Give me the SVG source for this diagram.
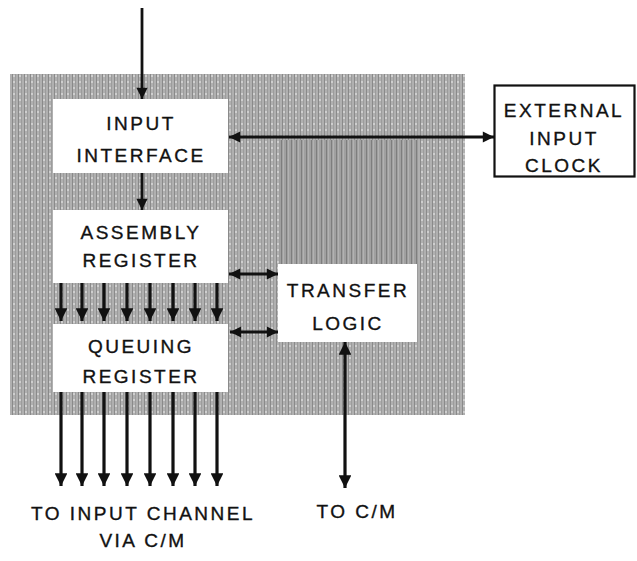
<svg xmlns="http://www.w3.org/2000/svg" width="637" height="561" viewBox="0 0 637 561">
<style>
.box{fill:#ffffff;stroke:none}
.lbl{font-family:"Liberation Sans",Arial,sans-serif;font-size:19px;letter-spacing:2.5px;fill:#111;stroke:#111;stroke-width:0.35;text-anchor:middle}
.ln{stroke:#111;fill:none}
</style>
<defs>
<pattern id="halftone" width="6" height="6" patternUnits="userSpaceOnUse">
<rect width="6" height="6" fill="#b0b0b0"/>
<rect x="0" y="0" width="1" height="6" fill="#8a8a8a"/>
<rect x="3" y="0" width="1" height="6" fill="#9c9c9c"/>
<rect x="1" y="3" width="2" height="2" fill="#cfcfcf"/>
</pattern>
<pattern id="stripes" width="5" height="5" patternUnits="userSpaceOnUse">
<rect width="5" height="5" fill="#a0a0a0"/>
<rect x="1" y="0" width="1" height="5" fill="#7e7e7e"/>
<rect x="3" y="0" width="1" height="5" fill="#b2b2b2"/>
</pattern>
<marker id="ah" viewBox="0 0 10 10" refX="10" refY="5" markerWidth="4.5" markerHeight="4" orient="auto-start-reverse" markerUnits="strokeWidth">
<path d="M0,0 L10,5 L0,10 Z" fill="#111"/>
</marker>
<marker id="ah2" viewBox="0 0 10 10" refX="10" refY="5" markerWidth="5.5" markerHeight="4" orient="auto-start-reverse" markerUnits="strokeWidth">
<path d="M0,0 L10,5 L0,10 Z" fill="#111"/>
</marker>
</defs>

<g id="background">
<rect x="10" y="74" width="455" height="341" fill="url(#halftone)"/>
<rect x="280" y="140" width="137" height="124" fill="url(#stripes)"/>
</g>

<g id="connectors">
<line class="ln" x1="142" y1="8" x2="142" y2="99" stroke-width="2.8" marker-end="url(#ah)"/>
<line class="ln" x1="142" y1="173" x2="142" y2="210" stroke-width="2.8" marker-end="url(#ah)"/>
<line class="ln" x1="229" y1="137" x2="494" y2="137" stroke-width="2.8" marker-start="url(#ah2)" marker-end="url(#ah2)"/>
<line class="ln" x1="229" y1="274" x2="278" y2="274" stroke-width="2.8" marker-start="url(#ah2)" marker-end="url(#ah2)"/>
<line class="ln" x1="230" y1="332" x2="278" y2="332" stroke-width="2.8" marker-start="url(#ah2)" marker-end="url(#ah2)"/>
<line class="ln" x1="345" y1="342" x2="345" y2="488" stroke-width="3.2" marker-start="url(#ah)" marker-end="url(#ah)"/>
<g stroke-width="3.2">
<line class="ln" x1="61" y1="283" x2="61" y2="321" marker-end="url(#ah)"/>
<line class="ln" x1="82" y1="283" x2="82" y2="321" marker-end="url(#ah)"/>
<line class="ln" x1="104" y1="283" x2="104" y2="321" marker-end="url(#ah)"/>
<line class="ln" x1="127" y1="283" x2="127" y2="321" marker-end="url(#ah)"/>
<line class="ln" x1="150" y1="283" x2="150" y2="321" marker-end="url(#ah)"/>
<line class="ln" x1="173" y1="283" x2="173" y2="321" marker-end="url(#ah)"/>
<line class="ln" x1="195" y1="283" x2="195" y2="321" marker-end="url(#ah)"/>
<line class="ln" x1="217" y1="283" x2="217" y2="321" marker-end="url(#ah)"/>
<line class="ln" x1="61" y1="392" x2="61" y2="486" marker-end="url(#ah)"/>
<line class="ln" x1="82" y1="392" x2="82" y2="486" marker-end="url(#ah)"/>
<line class="ln" x1="104" y1="392" x2="104" y2="486" marker-end="url(#ah)"/>
<line class="ln" x1="127" y1="392" x2="127" y2="486" marker-end="url(#ah)"/>
<line class="ln" x1="150" y1="392" x2="150" y2="486" marker-end="url(#ah)"/>
<line class="ln" x1="173" y1="392" x2="173" y2="486" marker-end="url(#ah)"/>
<line class="ln" x1="195" y1="392" x2="195" y2="486" marker-end="url(#ah)"/>
<line class="ln" x1="217" y1="392" x2="217" y2="486" marker-end="url(#ah)"/>
</g>
</g>

<g id="input-interface">
<rect class="box" x="53" y="99" width="175" height="74"/>
<text class="lbl" x="141" y="130">INPUT</text>
<text class="lbl" x="141" y="162">INTERFACE</text>
</g>

<g id="assembly-register">
<rect class="box" x="53" y="210" width="175" height="73"/>
<text class="lbl" x="141" y="239">ASSEMBLY</text>
<text class="lbl" x="141" y="267">REGISTER</text>
</g>

<g id="queuing-register">
<rect class="box" x="53" y="324" width="175" height="68"/>
<text class="lbl" x="141" y="353">QUEUING</text>
<text class="lbl" x="141" y="383">REGISTER</text>
</g>

<g id="transfer-logic">
<rect class="box" x="278" y="264" width="139" height="78"/>
<text class="lbl" x="348" y="297">TRANSFER</text>
<text class="lbl" x="348" y="330">LOGIC</text>
</g>

<g id="external-input-clock">
<rect x="494.5" y="85.5" width="140" height="91" fill="#fff" stroke="#111" stroke-width="2.2"/>
<text class="lbl" x="564" y="117">EXTERNAL</text>
<text class="lbl" x="564" y="145">INPUT</text>
<text class="lbl" x="564" y="172">CLOCK</text>
</g>

<g id="labels">
<text class="lbl" x="143" y="520">TO INPUT CHANNEL</text>
<text class="lbl" x="143" y="547">VIA C/M</text>
<text class="lbl" x="357" y="518">TO C/M</text>
</g>
</svg>
